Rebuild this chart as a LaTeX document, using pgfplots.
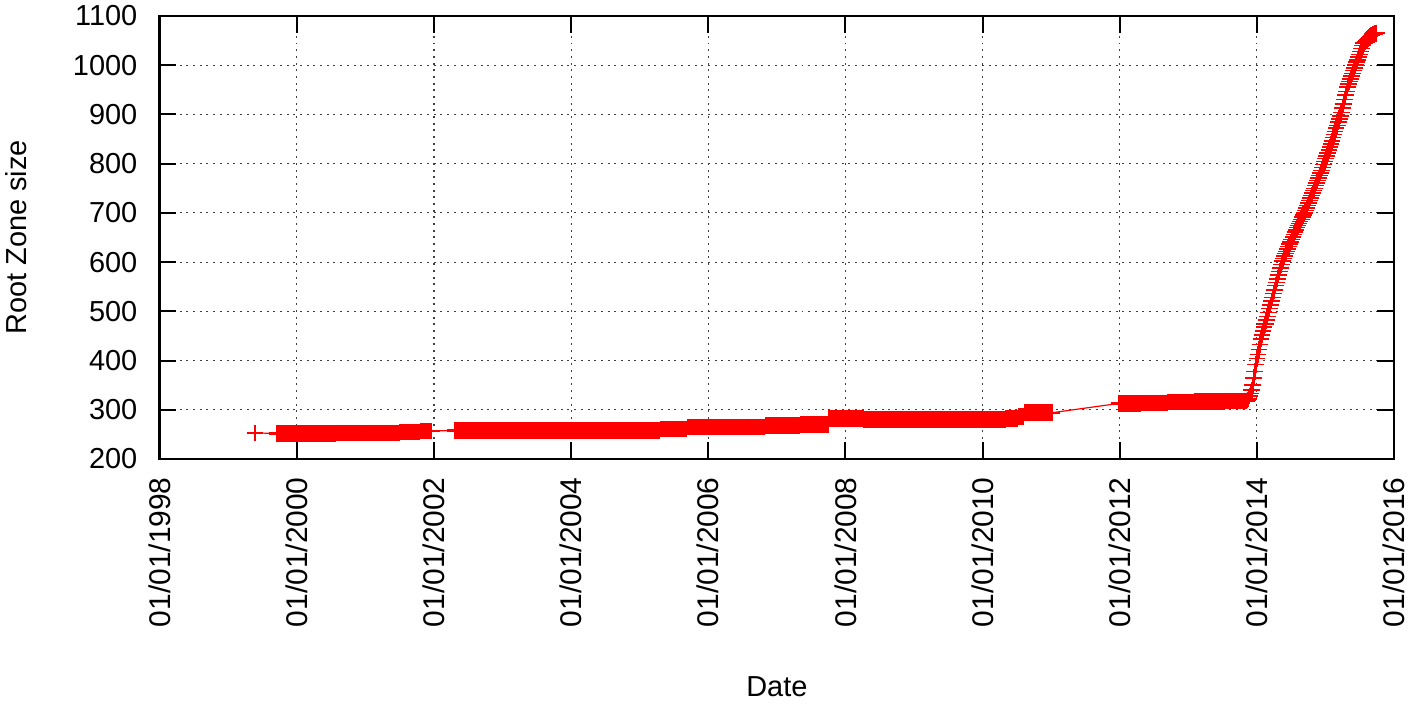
\documentclass[border=0pt]{standalone}
\usepackage{fontspec}
\setmainfont{Liberation Sans}
\usepackage{pgfplots}
\pgfplotsset{compat=1.18}
\begin{document}
\begin{tikzpicture}[font=\fontsize{14.5}{17}\selectfont]
\path[use as bounding box] (-80pt,-122.75pt) rectangle (626pt,230pt);
\begin{axis}[
  at={(0pt,0pt)}, anchor=south west,
  scale only axis, width=618.5pt, height=222pt,
  xmin=1998, xmax=2016, ymin=200, ymax=1100,
  xtick={1998,2000,...,2016},
  xticklabels={01/01/1998,01/01/2000,01/01/2002,01/01/2004,01/01/2006,01/01/2008,01/01/2010,01/01/2012,01/01/2014,01/01/2016},
  minor x tick num=7,
  ytick={200,300,...,1100},
  /pgf/number format/assume math mode=true,
  /pgf/number format/set thousands separator={},
  scaled y ticks=false,
  xticklabel style={font=\fontsize{15}{17}\selectfont, rotate=90, anchor=east, inner sep=0pt},
  xticklabel shift=9pt,
  yticklabel style={anchor=east, inner sep=0pt},
  yticklabel shift=11pt,
  major tick length=8.3pt, minor tick length=4.2pt,
  every tick/.style={black, line width=1pt},
  axis line style={black, line width=1.3pt},
  grid=major,
  major grid style={black!75, line width=0.6pt, dash pattern=on 1pt off 2.35pt},
  xlabel={Date}, ylabel={Root Zone size},
  xlabel style={at={(axis description cs:0.5,0)}, anchor=center, yshift=-114pt},
  ylabel style={at={(axis description cs:0,0.5)}, anchor=center, yshift=72pt},
]
% flat part of the series (dense daily points, drawn as a solid band)
\addplot[draw=red, line width=0.6pt, mark=+, mark size=4.2pt, mark options={draw=red, line width=1.2pt, solid}] coordinates {
(1999.39,253)
(1999.71,252) (1999.74,252) (1999.77,252) (1999.80,252) (1999.83,252) (1999.86,252) (1999.89,252) (1999.92,252) (1999.95,252) (1999.98,252)
(2000.01,252) (2000.04,252) (2000.07,252) (2000.10,252) (2000.13,252) (2000.16,252) (2000.19,252) (2000.22,252) (2000.25,252) (2000.28,252)
(2000.31,252) (2000.34,252) (2000.37,252) (2000.40,252) (2000.43,252) (2000.46,252) (2000.49,252) (2000.52,252) (2000.55,252)
(2000.58,253) (2000.61,253) (2000.64,253) (2000.67,253) (2000.70,253) (2000.73,253) (2000.76,253) (2000.79,253) (2000.82,253) (2000.85,253)
(2000.88,253) (2000.91,253) (2000.94,253) (2000.97,253) (2001.00,253) (2001.03,253) (2001.06,253) (2001.09,253) (2001.12,253) (2001.15,253)
(2001.18,253) (2001.21,253) (2001.24,253) (2001.27,253) (2001.30,253) (2001.33,253) (2001.36,253) (2001.39,253) (2001.42,253) (2001.45,253) (2001.48,253)
(2001.51,255) (2001.54,255) (2001.57,255) (2001.60,255) (2001.63,255) (2001.66,255) (2001.69,255) (2001.72,255) (2001.75,255) (2001.78,255)
(2001.81,257) (2001.84,257) (2001.87,257) (2001.90,257) (2001.93,257) (2001.96,257)
(2002.31,258) (2002.34,258) (2002.37,258) (2002.40,258) (2002.43,258) (2002.46,258) (2002.49,258) (2002.52,258) (2002.55,258) (2002.58,258)
(2002.61,258) (2002.64,258) (2002.67,258) (2002.70,258) (2002.73,258) (2002.76,258) (2002.79,258) (2002.82,258) (2002.85,258) (2002.88,258)
(2002.91,258) (2002.94,258) (2002.97,258) (2003.00,258) (2003.03,258) (2003.06,258) (2003.09,258) (2003.12,258) (2003.15,258) (2003.18,258)
(2003.21,258) (2003.24,258) (2003.27,258) (2003.30,258) (2003.33,258) (2003.36,258) (2003.39,258) (2003.42,258) (2003.45,258) (2003.48,258)
(2003.51,258) (2003.54,258) (2003.57,258) (2003.60,258) (2003.63,258) (2003.66,258) (2003.69,258) (2003.72,258) (2003.75,258) (2003.78,258)
(2003.81,258) (2003.84,258) (2003.87,258) (2003.90,258) (2003.93,258) (2003.96,258) (2003.99,258) (2004.02,258) (2004.05,258) (2004.08,258)
(2004.11,258) (2004.14,258) (2004.17,258) (2004.20,258) (2004.23,258) (2004.26,258) (2004.29,258) (2004.32,258) (2004.35,258) (2004.38,258)
(2004.41,258) (2004.44,258) (2004.47,258) (2004.50,258) (2004.53,258) (2004.56,258) (2004.59,258) (2004.62,258) (2004.65,258) (2004.68,258)
(2004.71,258) (2004.74,258) (2004.77,258) (2004.80,258) (2004.83,258) (2004.86,258) (2004.89,258) (2004.92,258) (2004.95,258) (2004.98,258)
(2005.01,258) (2005.04,258) (2005.07,258) (2005.10,258) (2005.13,258) (2005.16,258) (2005.19,258) (2005.22,258) (2005.25,258) (2005.28,258)
(2005.31,261) (2005.34,261) (2005.37,261) (2005.40,261) (2005.43,261) (2005.46,261) (2005.49,261) (2005.52,261) (2005.55,261) (2005.58,261) (2005.61,261) (2005.64,261) (2005.67,261)
(2005.70,265) (2005.73,265) (2005.76,265) (2005.79,265) (2005.82,265) (2005.85,265) (2005.88,265) (2005.91,265) (2005.94,265) (2005.97,265)
(2006.00,265) (2006.03,265) (2006.06,265) (2006.09,265) (2006.12,265) (2006.15,265) (2006.18,265) (2006.21,265) (2006.24,265) (2006.27,265)
(2006.30,265) (2006.33,265) (2006.36,265) (2006.39,265) (2006.42,265) (2006.45,265) (2006.48,265) (2006.51,265) (2006.54,265) (2006.57,265)
(2006.60,265) (2006.63,265) (2006.66,265) (2006.69,265) (2006.72,265) (2006.75,265) (2006.78,265) (2006.81,265)
(2006.84,268) (2006.87,268) (2006.90,268) (2006.93,268) (2006.96,268) (2006.99,268) (2007.02,268) (2007.05,268) (2007.08,268) (2007.11,268)
(2007.14,268) (2007.17,268) (2007.20,268) (2007.23,268) (2007.26,268) (2007.29,268) (2007.32,268)
(2007.35,270) (2007.38,270) (2007.41,270) (2007.44,270) (2007.47,270) (2007.50,270) (2007.53,270) (2007.56,270) (2007.59,270) (2007.62,270)
(2007.65,270) (2007.68,270) (2007.71,270) (2007.74,270)
(2007.77,283) (2007.80,283) (2007.83,283) (2007.86,283) (2007.89,283) (2007.92,283) (2007.95,283) (2007.98,283) (2008.01,283) (2008.04,283)
(2008.07,283) (2008.10,283) (2008.13,283) (2008.16,283) (2008.19,283) (2008.22,283) (2008.25,283)
(2008.28,280) (2008.31,280) (2008.34,280) (2008.37,280) (2008.40,280) (2008.43,280) (2008.46,280) (2008.49,280) (2008.52,280) (2008.55,280)
(2008.58,280) (2008.61,280) (2008.64,280) (2008.67,280) (2008.70,280) (2008.73,280) (2008.76,280) (2008.79,280) (2008.82,280) (2008.85,280)
(2008.88,280) (2008.91,280) (2008.94,280) (2008.97,280) (2009.00,280) (2009.03,280) (2009.06,280) (2009.09,280) (2009.12,280) (2009.15,280)
(2009.18,280) (2009.21,280) (2009.24,280) (2009.27,280) (2009.30,280) (2009.33,280) (2009.36,280) (2009.39,280) (2009.42,280) (2009.45,280)
(2009.48,280) (2009.51,280) (2009.54,280) (2009.57,280) (2009.60,280) (2009.63,280) (2009.66,280) (2009.69,280) (2009.72,280) (2009.75,280)
(2009.78,280) (2009.81,280) (2009.84,280) (2009.87,280) (2009.90,280) (2009.93,280) (2009.96,280) (2009.99,280) (2010.02,280) (2010.05,280)
(2010.08,280) (2010.11,280) (2010.14,280) (2010.17,280) (2010.20,280) (2010.23,280) (2010.26,280) (2010.29,280) (2010.32,280)
(2010.35,283) (2010.38,283) (2010.41,283) (2010.44,283) (2010.47,283) (2010.50,283)
(2010.53,287) (2010.56,287) (2010.59,287)
(2010.62,294) (2010.65,294) (2010.68,294) (2010.71,294) (2010.74,294) (2010.77,294) (2010.80,294) (2010.83,294) (2010.86,294) (2010.89,294)
(2010.92,294) (2010.95,294) (2010.98,294) (2011.01,294)
(2011.99,313) (2012.02,313) (2012.05,313) (2012.08,313) (2012.11,313) (2012.14,313) (2012.17,313) (2012.20,313) (2012.23,313) (2012.26,313) (2012.29,313)
(2012.32,314) (2012.35,314) (2012.38,314) (2012.41,314) (2012.44,314) (2012.47,314) (2012.50,314) (2012.53,314) (2012.56,314) (2012.59,314)
(2012.62,314) (2012.65,314) (2012.68,314)
(2012.71,316) (2012.74,316) (2012.77,316) (2012.80,316) (2012.83,316) (2012.86,316) (2012.89,316) (2012.92,316) (2012.95,316) (2012.98,316)
(2013.01,316) (2013.04,316) (2013.07,316)
(2013.10,317) (2013.13,317) (2013.16,317) (2013.19,317) (2013.22,317) (2013.25,317) (2013.28,317) (2013.31,317) (2013.34,317) (2013.37,317)
(2013.40,317) (2013.43,317) (2013.46,317) (2013.49,317)
(2013.52,318) (2013.55,318) (2013.58,318) (2013.61,318) (2013.64,318) (2013.67,318) (2013.70,318) (2013.73,318) (2013.76,318) (2013.79,318) (2013.82,318)
};
% steep part of the same series (continues from the last point above)
\addplot[draw=red, line width=0.6pt, mark=+, mark size=4.2pt, mark options={draw=red, line width=0.75pt, solid}] coordinates {
(2013.82,318)
(2013.850,318) (2013.865,320) (2013.880,322) (2013.895,328) (2013.910,333) (2013.925,340) (2013.940,350) (2013.955,365) (2013.970,378) (2013.985,392)
(2014.000,404) (2014.015,412) (2014.030,422) (2014.045,433) (2014.060,444) (2014.075,452) (2014.090,460) (2014.105,468) (2014.120,474) (2014.135,482)
(2014.150,490) (2014.165,498) (2014.180,506) (2014.195,513) (2014.210,521) (2014.225,528) (2014.240,536) (2014.255,543) (2014.270,552) (2014.285,559)
(2014.300,566) (2014.315,574) (2014.330,581) (2014.345,588) (2014.360,595) (2014.375,602) (2014.390,607) (2014.405,612) (2014.420,617) (2014.435,622)
(2014.450,627) (2014.465,632) (2014.480,637) (2014.495,641) (2014.510,646) (2014.525,651) (2014.540,656) (2014.555,661) (2014.570,665) (2014.585,670)
(2014.600,674) (2014.615,678) (2014.630,683) (2014.645,687) (2014.660,692) (2014.675,696) (2014.690,700) (2014.705,705) (2014.720,710) (2014.735,715)
(2014.750,720) (2014.765,725) (2014.780,730) (2014.795,735) (2014.810,740) (2014.825,745) (2014.840,750) (2014.855,756) (2014.870,761) (2014.885,766)
(2014.900,771) (2014.915,776) (2014.930,781) (2014.945,786) (2014.960,792) (2014.975,798) (2014.990,804) (2015.005,810) (2015.020,816) (2015.035,822)
(2015.050,828) (2015.065,834) (2015.080,840) (2015.095,846) (2015.110,853) (2015.125,859) (2015.140,865) (2015.155,872) (2015.170,878) (2015.185,885)
(2015.200,891) (2015.215,897) (2015.230,904) (2015.245,913) (2015.260,921) (2015.275,930) (2015.290,939) (2015.305,947) (2015.320,956) (2015.335,962)
(2015.350,967) (2015.365,972) (2015.380,978) (2015.395,983) (2015.410,989) (2015.425,994) (2015.440,1000) (2015.455,1006) (2015.470,1011) (2015.485,1017)
(2015.500,1022) (2015.515,1028) (2015.530,1034) (2015.545,1040) (2015.560,1045) (2015.575,1048) (2015.590,1050) (2015.605,1052) (2015.620,1054) (2015.635,1056)
(2015.650,1058) (2015.665,1060) (2015.680,1061) (2015.695,1062) (2015.710,1063) (2015.725,1064) (2015.740,1065)
};
\end{axis}
\end{tikzpicture}
\end{document}
